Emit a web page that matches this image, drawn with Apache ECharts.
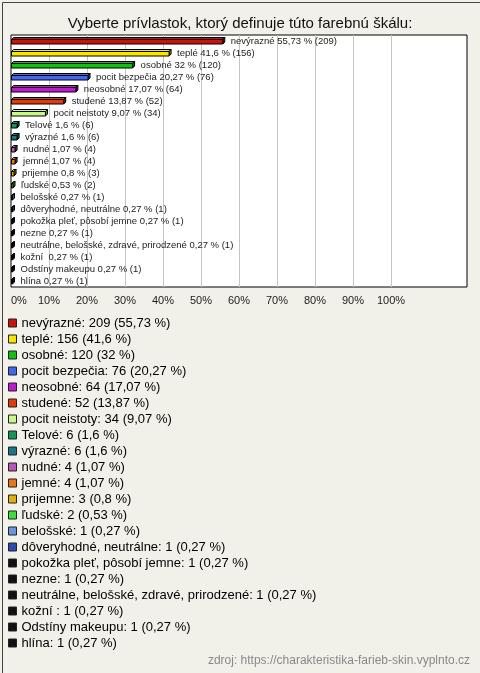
<!DOCTYPE html>
<html>
<head>
<meta charset="utf-8">
<script src="https://cdn.jsdelivr.net/npm/echarts@6/dist/echarts.min.js"></script>
<style>
html,body{margin:0;padding:0;background:#f2f1e9;}
#c{width:480px;height:673px;}
</style>
</head>
<body>
<div id="c"></div>
<script>
const titleText = 'Vyberte prívlastok, ktorý definuje túto farebnú škálu:';
const categories = ['nevýrazné','teplé','osobné','pocit bezpečia','neosobné','studené','pocit neistoty','Telové','výrazné','nudné','jemné','prijemne','ľudské','belošské','dôveryhodné, neutrálne','pokožka pleť, pôsobí jemne','nezne','neutrálne, belošské, zdravé, prirodzené','kožní ','Odstíny makeupu','hlína'];
const counts = [209,156,120,76,64,52,34,6,6,4,4,3,2,1,1,1,1,1,1,1,1];
const percents = [55.73,41.6,32,20.27,17.07,13.87,9.07,1.6,1.6,1.07,1.07,0.8,0.53,0.27,0.27,0.27,0.27,0.27,0.27,0.27,0.27];
const colors = ['#c8140c','#f7e600','#14bf14','#4468ea','#bc1ccc','#de3e0c','#c8f78c','#16935f','#1d7387','#b659b8','#e8761a','#e0b010','#40dc40','#6b95df','#2a4cb0','#111111','#111111','#111111','#111111','#111111','#111111'];
const xTicks = [0,10,20,30,40,50,60,70,80,90,100];
const sourceText = 'zdroj: https://charakteristika-farieb-skin.vyplnto.cz';

const fmt = v => String(v).replace('.', ',');

function darker(hex, f) {
  const n = parseInt(hex.slice(1), 16);
  const r = Math.round(((n >> 16) & 255) * f), g = Math.round(((n >> 8) & 255) * f), b = Math.round((n & 255) * f);
  return 'rgb(' + r + ',' + g + ',' + b + ')';
}

function renderBar(params, api) {
  const v = api.value(0), c = api.value(1);
  const s = api.coord([0, c]);
  const e = api.coord([v, c]);
  const cy = s[1];
  const col = colors[c];
  const x0 = s[0] + 0.5, x1 = Math.max(e[0], x0 + 1);
  const yT = cy - 1.5, yB = cy + 3, d = 2;
  const st = {stroke: '#000', lineWidth: 1};
  return {
    type: 'group',
    children: [
      {type: 'polygon', shape: {points: [[x0, yT], [x0 + d, yT - d], [x1 + d, yT - d], [x1, yT]]}, style: Object.assign({fill: col}, st)},
      {type: 'polygon', shape: {points: [[x1, yT], [x1 + d, yT - d], [x1 + d, yB - d], [x1, yB]]}, style: Object.assign({fill: darker(col, 0.6)}, st)},
      {type: 'rect', shape: {x: x0, y: yT, width: x1 - x0, height: yB - yT}, style: Object.assign({fill: col}, st)},
      {type: 'text', x: x1 + 8, y: cy + 0.5, style: {text: categories[c] + ' ' + fmt(percents[c]) + ' % (' + counts[c] + ')', fill: '#222', font: '9.5px "Liberation Sans", Arial, sans-serif', verticalAlign: 'middle', align: 'left'}}
    ]
  };
}

const series = categories.map((name, i) => ({
  type: 'custom',
  name: name,
  renderItem: renderBar,
  itemStyle: {color: colors[i]},
  encode: {x: 0, y: 1},
  data: [[percents[i], i]],
  clip: false,
  silent: true
}));

const gridColors = [];
for (let v = 0; v <= 120; v += 10) gridColors.push(v > 0 && v <= 100 ? '#c4c4c4' : 'rgba(0,0,0,0)');

const chart = echarts.init(document.getElementById('c'), null, {renderer: 'canvas'});
chart.setOption({
  backgroundColor: '#f2f1e9',
  animation: false,
  title: {
    text: titleText, left: 'center', top: 11,
    textStyle: {fontSize: 15, fontWeight: 'normal', color: '#111', fontFamily: '"Liberation Sans", Arial, sans-serif'}
  },
  grid: {left: 11, top: 35, width: 456, height: 252, show: true, backgroundColor: '#fff', borderColor: '#000', borderWidth: 1},
  xAxis: {
    type: 'value', min: 0, max: 120, interval: 10,
    axisLine: {show: false}, axisTick: {show: false},
    splitLine: {show: true, lineStyle: {color: gridColors, width: 1}},
    axisLabel: {
      margin: 8, fontSize: 11, color: '#222', fontFamily: '"Liberation Sans", Arial, sans-serif',
      formatter: v => xTicks.indexOf(v) >= 0 ? v + '%' : '',
      alignMinLabel: 'left'
    }
  },
  yAxis: {
    type: 'category', data: categories, inverse: true,
    axisLine: {show: false}, axisTick: {show: false}, axisLabel: {show: false}, splitLine: {show: false}
  },
  legend: {
    orient: 'vertical', left: 3, top: 310,
    itemWidth: 8, itemHeight: 8, itemGap: 0, icon: 'rect',
    itemStyle: {borderColor: '#222', borderWidth: 1},
    selectedMode: false,
    textStyle: {fontSize: 13, color: '#000', lineHeight: 16, fontFamily: '"Liberation Sans", Arial, sans-serif'},
    formatter: name => {
      const i = categories.indexOf(name);
      return name + ': ' + counts[i] + ' (' + fmt(percents[i]) + ' %)';
    },
    data: categories
  },
  graphic: [
    {type: 'rect', left: 0, top: 0, shape: {x: 0.5, y: 0.5, width: 479, height: 672}, style: {fill: 'none', stroke: '#444', lineWidth: 1}, silent: true, z: 100},
    {type: 'text', right: 10, top: 655, style: {text: sourceText, fill: '#888', font: '12px "Liberation Sans", Arial, sans-serif'}}
  ],
  series: series
});
</script>
</body>
</html>
